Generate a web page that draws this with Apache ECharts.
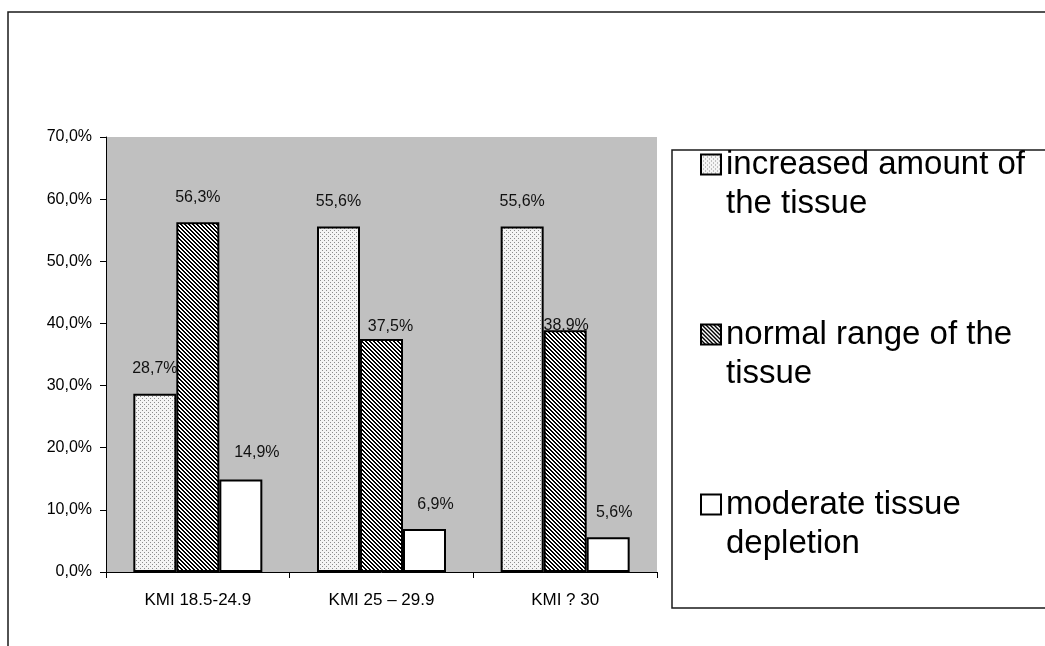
<!DOCTYPE html>
<html>
<head>
<meta charset="utf-8">
<script src="https://cdn.jsdelivr.net/npm/echarts@6/dist/echarts.min.js"></script>
<style>
  html, body { margin: 0; padding: 0; background: #fff; }
  #chart { width: 1045px; height: 646px; }
</style>
</head>
<body>
<div id="chart"></div>
<script>
// Body mass categories and tissue-status shares (fractions)
const categories = ['KMI 18.5-24.9', 'KMI 25 \u2013 29.9', 'KMI ? 30'];
const seriesNames = [
  'increased amount of\nthe tissue',
  'normal range of the\ntissue',
  'moderate tissue\ndepletion'
];
const increased = [0.287, 0.556, 0.556];
const normal = [0.563, 0.375, 0.389];
const depletion = [0.149, 0.069, 0.056];
const yTicks = [0, 0.1, 0.2, 0.3, 0.4, 0.5, 0.6, 0.7];

// small nudges for value labels [dx, dy] per series / category
const labelNudge = [
  [[0, 0], [0, 0], [0, 0]],
  [[0, 0], [9, 13], [1, 20]],
  [[16, -2], [11, 0], [6, 0]]
];

const FONT = "'Liberation Sans', Arial, sans-serif";

function makeTile(w, h, paint) {
  const c = document.createElement('canvas');
  c.width = w; c.height = h;
  const ctx = c.getContext('2d');
  paint(ctx, w, h);
  return c;
}

// fine dotted fill
const dotTile = makeTile(4, 4, (ctx) => {
  ctx.fillStyle = '#f4f4f4';
  ctx.fillRect(0, 0, 4, 4);
  ctx.fillStyle = '#8c8c8c';
  ctx.fillRect(0, 0, 1, 1);
  ctx.fillRect(2, 2, 1, 1);
});

// dense diagonal hatch running down to the right
const hatchTile = makeTile(4, 4, (ctx) => {
  ctx.fillStyle = '#ffffff';
  ctx.fillRect(0, 0, 4, 4);
  ctx.fillStyle = '#000000';
  for (let y = 0; y < 4; y++) {
    for (let x = 0; x < 4; x++) {
      const k = ((x - y) % 4 + 4) % 4;
      if (k === 0 || k === 1) ctx.fillRect(x, y, 1, 1);
    }
  }
});

const fills = [
  { image: dotTile, repeat: 'repeat' },
  { image: hatchTile, repeat: 'repeat' },
  '#ffffff'
];

const pct = v => (v * 100).toFixed(1).replace('.', ',') + '%';

function buildSeries(name, values, idx) {
  return {
    name: name,
    type: 'bar',
    barWidth: 43,
    barGap: '0%',
    itemStyle: { color: fills[idx], borderColor: '#000', borderWidth: 2 },
    label: {
      show: true,
      position: 'top',
      distance: 17,
      color: '#111',
      fontFamily: FONT,
      fontSize: 16,
      formatter: p => pct(p.value)
    },
    data: values.map((v, i) => ({
      value: v,
      label: { offset: labelNudge[idx][i] }
    }))
  };
}

const chart = echarts.init(document.getElementById('chart'), null, { renderer: 'canvas' });

chart.setOption({
  backgroundColor: '#ffffff',
  animation: false,
  graphic: [
    {
      type: 'rect',
      shape: { x: 8, y: 12, width: 1100, height: 700 },
      style: { fill: 'none', stroke: '#1a1a1a', lineWidth: 1.5 },
      silent: true, z: -1
    },
    {
      type: 'rect',
      shape: { x: 672, y: 150, width: 420, height: 458 },
      style: { fill: '#ffffff', stroke: '#1a1a1a', lineWidth: 1.5 },
      silent: true, z: -1
    }
  ],
  grid: {
    left: 106, right: 388, top: 137, bottom: 74,
    show: true, backgroundColor: '#c0c0c0', borderWidth: 0
  },
  legend: {
    orient: 'vertical',
    left: 700,
    top: 106,
    padding: 0,
    itemGap: 53,
    itemWidth: 20,
    itemHeight: 20,
    icon: 'rect',
    selectedMode: false,
    itemStyle: { borderColor: '#000', borderWidth: 2 },
    textStyle: {
      fontFamily: FONT,
      fontSize: 33,
      lineHeight: 39,
      color: '#000'
    },
    // a leading blank line keeps the marker level with the first text line
    formatter: name => '\n' + name,
    data: seriesNames
  },
  xAxis: {
    type: 'category',
    data: categories,
    axisLine: { lineStyle: { color: '#000', width: 1 } },
    axisTick: { show: true, length: 6, lineStyle: { color: '#000' } },
    axisLabel: { color: '#000', fontFamily: FONT, fontSize: 17, margin: 20 }
  },
  yAxis: {
    type: 'value',
    min: yTicks[0],
    max: yTicks[yTicks.length - 1],
    interval: 0.1,
    axisLine: { show: true, lineStyle: { color: '#000', width: 1 } },
    axisTick: { show: true, length: 6, lineStyle: { color: '#000' } },
    splitLine: { show: false },
    axisLabel: {
      color: '#000', fontFamily: FONT, fontSize: 16, margin: 14,
      formatter: v => pct(v)
    }
  },
  series: [
    buildSeries(seriesNames[0], increased, 0),
    buildSeries(seriesNames[1], normal, 1),
    buildSeries(seriesNames[2], depletion, 2)
  ]
});
</script>
</body>
</html>
